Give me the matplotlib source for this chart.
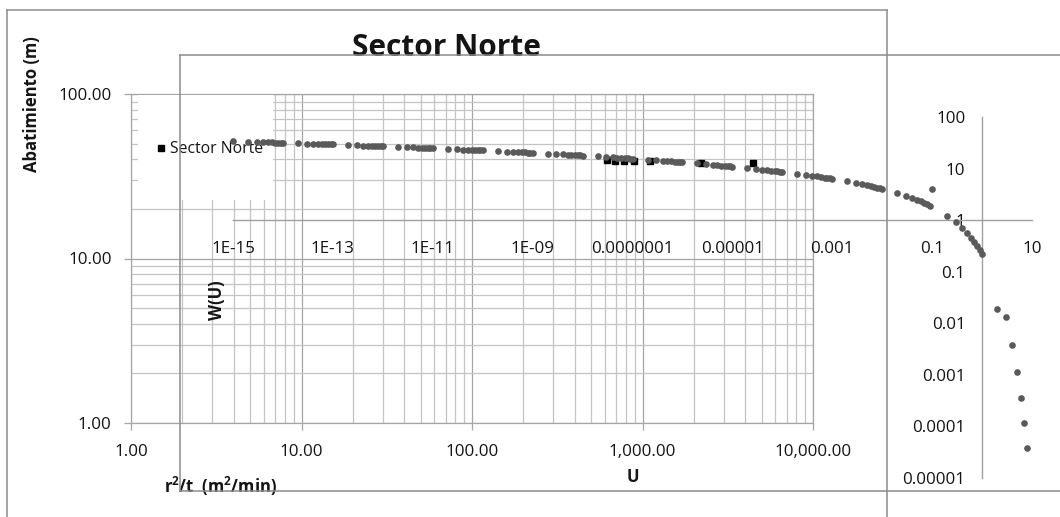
import matplotlib
matplotlib.use("Agg")
import matplotlib.pyplot as plt
from matplotlib.lines import Line2D
from matplotlib.patches import Rectangle

plt.rcParams['font.family'] = ['Open Sans', 'DejaVu Sans']
plt.rcParams['mathtext.fontset'] = 'custom'
plt.rcParams['mathtext.rm'] = 'Open Sans'
plt.rcParams['mathtext.bf'] = 'Open Sans:bold'

W_PX, H_PX = 1060, 517

# Field drawdown observations: r^2/t (m^2/min) vs drawdown (m)
r2t_obs = [620, 690, 780, 890, 1110, 2190, 4430]
drawdown_obs = [39.6, 39.3, 39.0, 39.4, 39.1, 38.0, 38.3]

# Well function table W(u), u = multiplier x 10^exponent
u_mult = [1, 2, 3, 4, 5, 6, 7, 8, 9]
u_exponents = [-15, -14, -13, -12, -11, -10, -9, -8, -7, -6, -5, -4, -3, -2, -1, 0]
w_e15 = [33.96, 33.27, 32.86, 32.58, 32.35, 32.17, 32.02, 31.88, 31.76]
w_e14 = [31.66, 30.97, 30.56, 30.27, 30.05, 29.87, 29.71, 29.58, 29.46]
w_e13 = [29.36, 28.66, 28.26, 27.97, 27.75, 27.56, 27.41, 27.28, 27.16]
w_e12 = [27.05, 26.36, 25.96, 25.67, 25.44, 25.26, 25.11, 24.97, 24.86]
w_e11 = [24.75, 24.06, 23.65, 23.36, 23.14, 22.96, 22.81, 22.67, 22.55]
w_e10 = [22.45, 21.76, 21.35, 21.06, 20.84, 20.66, 20.50, 20.37, 20.25]
w_e09 = [20.15, 19.45, 19.05, 18.76, 18.54, 18.35, 18.20, 18.07, 17.95]
w_e08 = [17.84, 17.15, 16.74, 16.46, 16.23, 16.05, 15.90, 15.76, 15.65]
w_e07 = [15.54, 14.85, 14.44, 14.15, 13.93, 13.75, 13.60, 13.46, 13.34]
w_e06 = [13.24, 12.55, 12.14, 11.85, 11.63, 11.45, 11.29, 11.16, 11.04]
w_e05 = [10.94, 10.24, 9.84, 9.55, 9.33, 9.14, 8.99, 8.86, 8.74]
w_e04 = [8.63, 7.94, 7.53, 7.25, 7.02, 6.84, 6.69, 6.55, 6.44]
w_e03 = [6.33, 5.64, 5.23, 4.95, 4.73, 4.54, 4.39, 4.26, 4.14]
w_e02 = [4.04, 3.35, 2.96, 2.68, 2.47, 2.30, 2.15, 2.03, 1.92]
w_e01 = [4.04, 1.22, 0.906, 0.702, 0.560, 0.454, 0.374, 0.311, 0.260]
w_e00 = [0.219, 0.0186, 0.0130, 0.00378, 0.00115, 0.000360, 0.000115, 0.0000377]
w_rows = [w_e15, w_e14, w_e13, w_e12, w_e11, w_e10, w_e09, w_e08,
          w_e07, w_e06, w_e05, w_e04, w_e03, w_e02, w_e01, w_e00]

# Tick labels
r2t_ticks = [1, 10, 100, 1000, 10000]
r2t_labels = ["1.00", "10.00", "100.00", "1,000.00", "10,000.00"]
s_ticks = [1, 10, 100]
s_labels = ["1.00", "10.00", "100.00"]
u_ticks = [1e-15, 1e-13, 1e-11, 1e-9, 1e-7, 1e-5, 1e-3, 1e-1, 10]
u_labels = ["1E-15", "1E-13", "1E-11", "1E-09", "0.0000001", "0.00001",
            "0.001", "0.1", "10"]
w_ticks = [1e-5, 1e-4, 1e-3, 1e-2, 1e-1, 1, 10, 100]
w_labels = ["0.00001", "0.0001", "0.001", "0.01", "0.1", "1", "10", "100"]

u_vals, w_vals = [], []
for exp, row in zip(u_exponents, w_rows):
    for m, w in zip(u_mult, row):
        u_vals.append(m * 10.0 ** exp)
        w_vals.append(w)

FRAME = "#8c8c8c"
TXT = "#141414"
TICK_FS = 12.2

fig = plt.figure(figsize=(W_PX / 100, H_PX / 100), dpi=100)
fig.patch.set_facecolor("white")


def px_axes(x0, y0, x1, y1):
    return fig.add_axes([x0 / W_PX, 1 - y1 / H_PX, (x1 - x0) / W_PX, (y1 - y0) / H_PX])


def fx(x):
    return x / W_PX


def fy(y):
    return 1 - y / H_PX


def frame_line(x0, y0, x1, y1, z=2):
    fig.add_artist(Line2D([fx(x0), fx(x1)], [fy(y0), fy(y1)], transform=fig.transFigure,
                          color=FRAME, lw=1.1, zorder=z, clip_on=False))


# ---------- drawdown chart ----------
frame_line(7, 10, 887, 10)
frame_line(7, 10, 7, 520)
frame_line(887, 10, 887, 520)
fig.text(fx(446), fy(48), "Sector Norte", ha="center", va="center",
         fontsize=21.5, fontweight="bold", color=TXT)

ax1 = px_axes(131, 94, 813, 423)
ax1.set_xscale("log")
ax1.set_yscale("log")
ax1.set_xlim(1, 10000)
ax1.set_ylim(1, 100)
ax1.grid(True, which="major", color="#a6a6a6", lw=0.9)
ax1.grid(True, which="minor", color="#c4c4c4", lw=0.9)
ax1.set_axisbelow(True)
for sp in ax1.spines.values():
    sp.set_color("#a6a6a6")
    sp.set_linewidth(0.9)
ax1.set_xticks(r2t_ticks)
ax1.set_xticklabels(r2t_labels)
ax1.set_yticks(s_ticks)
ax1.set_yticklabels(s_labels)
ax1.tick_params(which="major", direction="out", length=5, width=0.9, color="#a6a6a6",
                labelsize=TICK_FS, labelcolor=TXT)
ax1.tick_params(axis="x", which="major", pad=10)
ax1.tick_params(axis="y", which="major", pad=9)
ax1.tick_params(which="minor", length=0)
ax1.plot(r2t_obs, drawdown_obs, ls="none", marker="s", ms=3.8, color="black",
         label="Sector Norte", zorder=3)
ax1.set_ylabel("Abatimiento (m)", fontsize=12, fontweight="bold", color=TXT)
ax1.yaxis.set_label_coords((32 - 131) / 682, (423 - 104) / 329)
ax1.yaxis.label.set_va("center")
ax1.set_xlabel(r"r$^{\mathbf{2}}$/t  (m$^{\mathbf{2}}$/min)", fontsize=12,
               fontweight="bold", color=TXT)
ax1.xaxis.set_label_coords((220 - 131) / 682, (423 - 486) / 329)
ax1.xaxis.label.set_va("center")

# legend area with white background
ax1.add_patch(Rectangle((fx(138), fy(200)), fx(273) - fx(138), fy(95) - fy(200),
                        transform=fig.transFigure, facecolor="white", edgecolor="none",
                        zorder=4, clip_on=False))
leg = ax1.legend(loc="center", bbox_to_anchor=(fx(210), fy(149)),
                 bbox_transform=fig.transFigure, frameon=False, fontsize=11.3,
                 handlelength=0.5, handletextpad=0.35, borderpad=0)
leg.set_zorder(5)
for t in leg.get_texts():
    t.set_color(TXT)

# ---------- type curve chart ----------
frame_line(180, 55, 1065, 55, z=6)
frame_line(180, 55, 180, 491, z=6)
frame_line(180, 491, 1065, 491, z=6)

ax2 = px_axes(233, 117, 1032, 478)
ax2.patch.set_alpha(0)
ax2.set_xscale("log")
ax2.set_yscale("log")
ax2.set_xlim(1e-15, 10)
ax2.set_ylim(1e-5, 100)
ax2.spines["top"].set_visible(False)
ax2.spines["right"].set_visible(False)
ax2.spines["left"].set_position(("data", 1))
ax2.spines["bottom"].set_position(("data", 1))
for name in ("left", "bottom"):
    ax2.spines[name].set_color("#a0a0a0")
    ax2.spines[name].set_linewidth(1.0)
ax2.set_xticks(u_ticks)
ax2.set_xticklabels(u_labels)
ax2.set_yticks(w_ticks)
ax2.set_yticklabels(w_labels)
ax2.minorticks_off()
ax2.tick_params(length=0, labelsize=TICK_FS, labelcolor=TXT)
ax2.tick_params(axis="x", pad=15)
ax2.tick_params(axis="y", pad=12)
ax2.plot(u_vals, w_vals, ls="none", marker="o", ms=4.8, color="#5a5a5a",
         markeredgewidth=0, zorder=3, clip_on=False)
ax2.set_xlabel("U", fontsize=12, fontweight="bold", color=TXT)
ax2.xaxis.set_label_coords(0.5, (478 - 477) / 361)
ax2.xaxis.label.set_va("center")
ax2.set_ylabel("W(U)", fontsize=12, fontweight="bold", color=TXT)
ax2.yaxis.set_label_coords((217 - 233) / 799, (478 - 300) / 361)
ax2.yaxis.label.set_va("center")

fig.savefig("out.png", dpi=100, facecolor="white")
